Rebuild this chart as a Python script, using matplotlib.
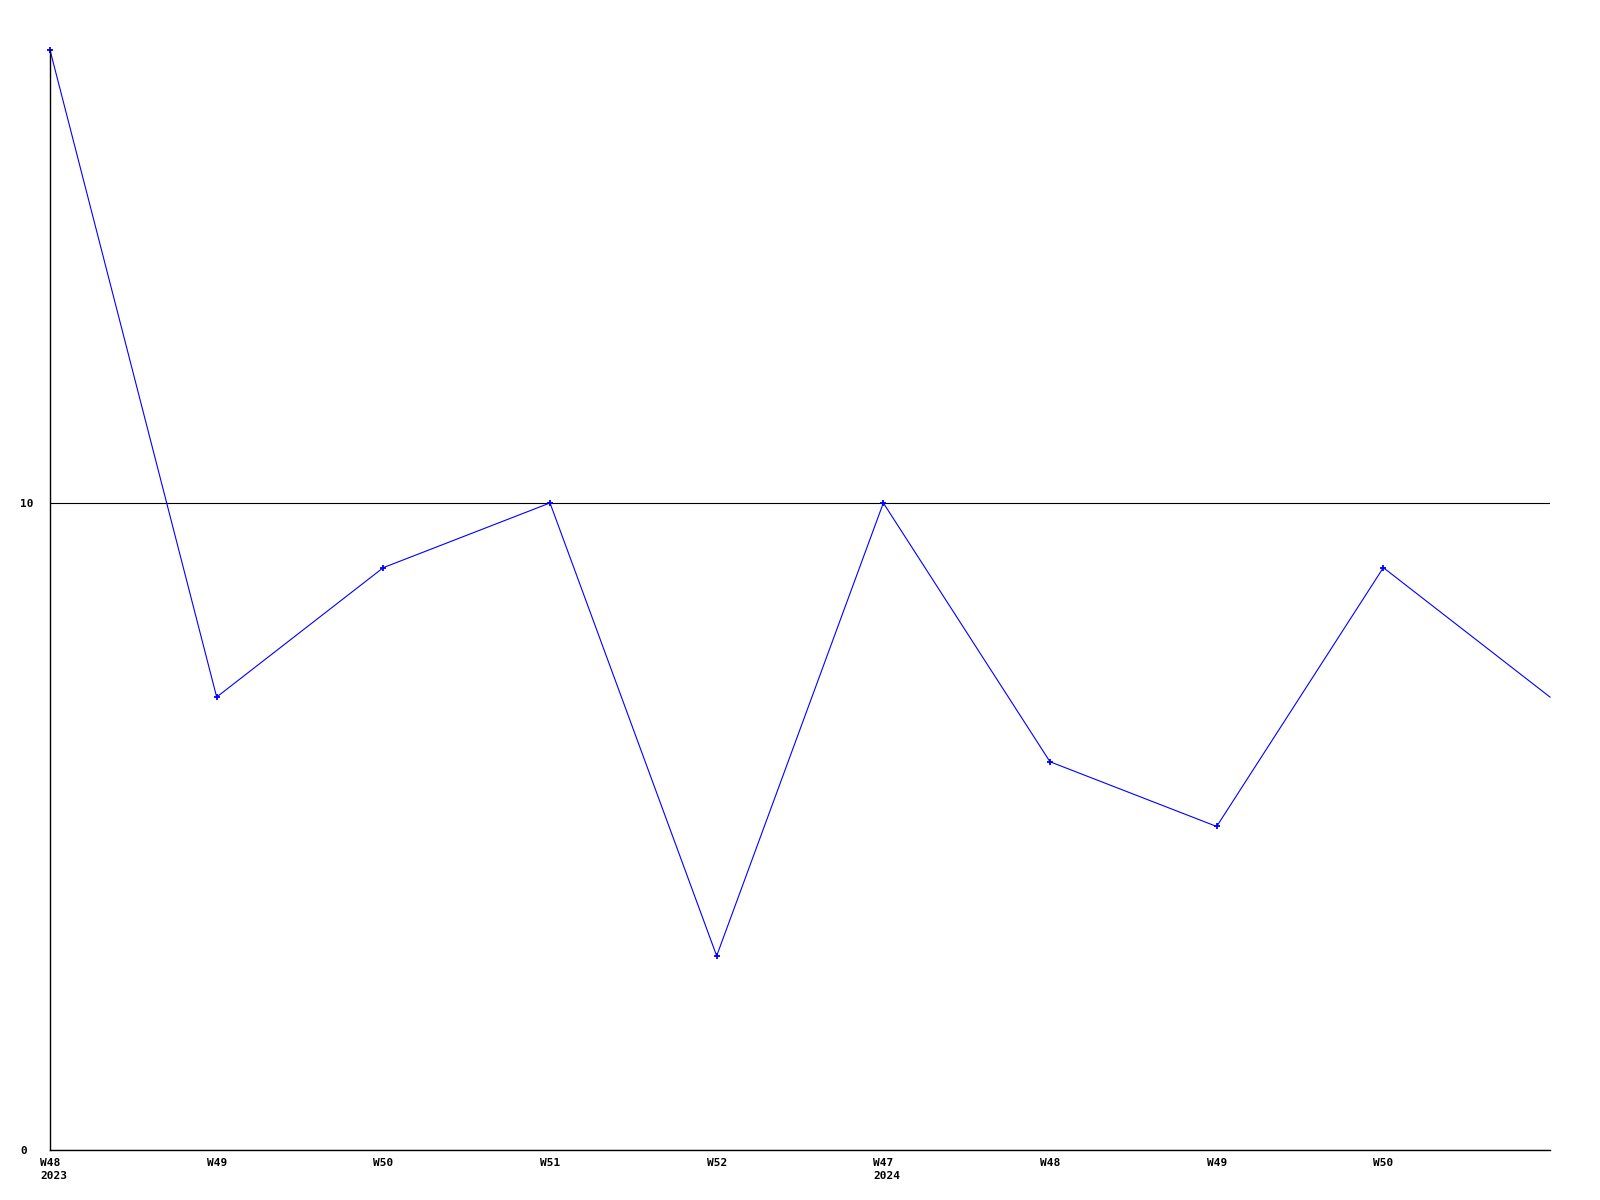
import matplotlib
matplotlib.use("Agg")
import matplotlib.pyplot as plt
import matplotlib.transforms as mtransforms

# --- data ---
week_labels = ["W48\n2023", "W49", "W50", "W51", "W52",
               "W47\n2024", "W48", "W49", "W50", ""]
values = [17, 7, 9, 10, 3, 10, 6, 5, 9, 7]
y_ticks = [0, 10]

fig = plt.figure(figsize=(16, 12), dpi=100)
ax = fig.add_axes([50 / 1600, 50 / 1200, 1500 / 1600, 1100 / 1200])

x = list(range(len(values)))
ax.plot(x, values, color="#0000ff", linewidth=0.8, clip_on=False)
# the last (running) week has no marker in the original
ax.plot(x[:-1], values[:-1], linestyle="none", color="#0000ff", marker="+",
        markersize=5, markeredgewidth=1.3, clip_on=False)

ax.set_xlim(0, len(values) - 1)
ax.set_ylim(0, 17)

ax.set_xticks(x)
ax.set_xticklabels(week_labels, family="DejaVu Sans Mono",
                   fontweight="bold", fontsize=8, ha="left",
                   linespacing=1.3)
ax.set_yticks(y_ticks)
ax.set_yticklabels([str(v) for v in y_ticks], family="DejaVu Sans Mono",
                   fontweight="bold", fontsize=8, ha="left")

ax.tick_params(axis="both", length=0)
ax.tick_params(axis="x", pad=6)
ax.tick_params(axis="y", pad=21.6)

# shift labels to sit like the original
shift_x = mtransforms.ScaledTranslation(-10 / 100, 0, fig.dpi_scale_trans)
for lbl in ax.get_xticklabels():
    lbl.set_transform(lbl.get_transform() + shift_x)

ax.grid(axis="y", color="black", linewidth=0.8)
ax.grid(axis="x", visible=False)
ax.set_axisbelow(True)

for side in ["top", "right"]:
    ax.spines[side].set_visible(False)
for side in ["left", "bottom"]:
    ax.spines[side].set_color("black")
    ax.spines[side].set_linewidth(1)

fig.savefig("out.png", dpi=100, facecolor="white")
